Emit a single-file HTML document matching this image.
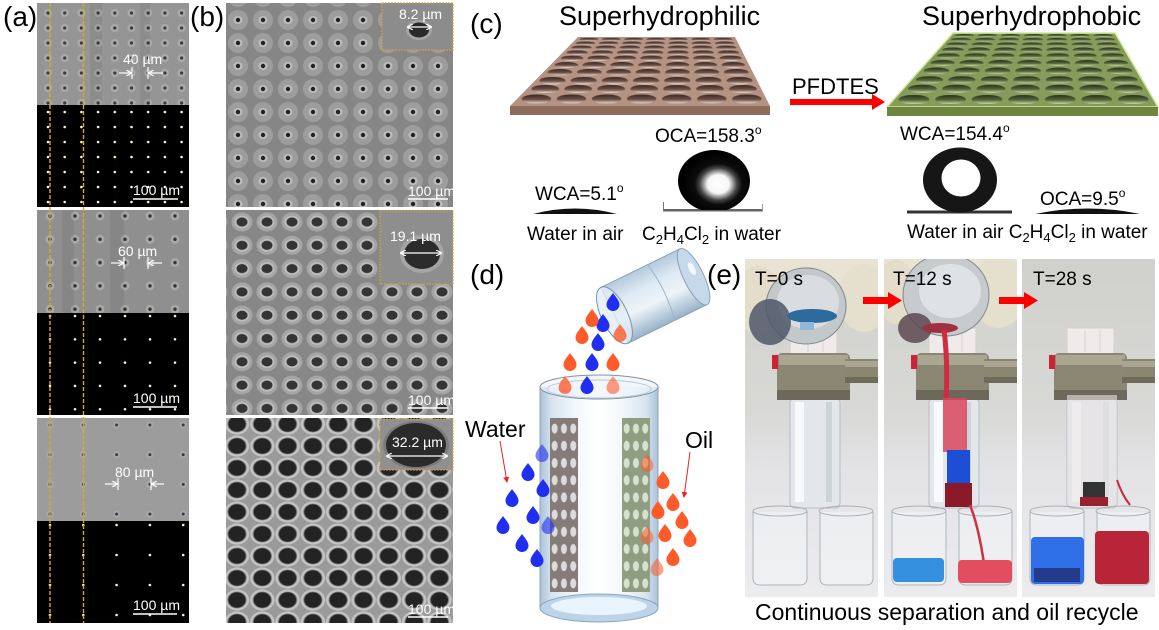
<!DOCTYPE html>
<html><head><meta charset="utf-8">
<style>
html,body{margin:0;padding:0;background:#fff;}
svg{display:block;}
text{font-family:"Liberation Sans",Arial,sans-serif;}
</style></head><body>
<svg width="1159" height="630" viewBox="0 0 1159 630" xmlns="http://www.w3.org/2000/svg">
<defs>
 <pattern id="a1g" patternUnits="userSpaceOnUse" x="39.65" y="5.5" width="16.7" height="15">
  <circle cx="8.35" cy="7.5" r="4" fill="#aaaaaa"/><circle cx="8.35" cy="7.5" r="1.6" fill="#3a3a3a"/>
 </pattern>
 <pattern id="a1k" patternUnits="userSpaceOnUse" x="39.65" y="104.5" width="16.7" height="15">
  <circle cx="8.35" cy="7.5" r="1.3" fill="#fff6d0"/>
 </pattern>
 <pattern id="a2g" patternUnits="userSpaceOnUse" x="37.5" y="204.35" width="25" height="23.3">
  <circle cx="12.5" cy="11.65" r="4.4" fill="#a9a9a9"/><circle cx="12.5" cy="11.65" r="1.7" fill="#333"/>
 </pattern>
 <pattern id="a2k" patternUnits="userSpaceOnUse" x="37.5" y="304.35" width="25" height="23.3">
  <circle cx="12.5" cy="11.65" r="1.3" fill="#fff6d0"/>
 </pattern>
 <pattern id="a3g" patternUnits="userSpaceOnUse" x="33.35" y="410" width="33.3" height="29.7">
  <circle cx="16.65" cy="15" r="3.6" fill="#a8a8a8"/><circle cx="16.65" cy="15" r="1.5" fill="#3a3a3a"/>
 </pattern>
 <pattern id="a3k" patternUnits="userSpaceOnUse" x="33.35" y="510" width="33.3" height="30">
  <circle cx="16.65" cy="15" r="1.3" fill="#fff6d0"/>
 </pattern>
 <pattern id="b1p" patternUnits="userSpaceOnUse" x="225.5" y="8.5" width="25" height="23">
  <ellipse cx="12.5" cy="11.5" rx="10" ry="10" fill="#9d9d9d"/>
  <ellipse cx="12.5" cy="11.5" rx="4.5" ry="4" fill="#bdbdbd"/>
  <circle cx="12.5" cy="11.5" r="2.2" fill="#222"/>
 </pattern>
 <pattern id="b2p" patternUnits="userSpaceOnUse" x="229.5" y="210.35" width="25" height="23.3">
  <ellipse cx="12.5" cy="11.65" rx="10.5" ry="9.5" fill="#a5a5a5"/>
  <ellipse cx="12.5" cy="11.65" rx="7.5" ry="6.5" fill="#bdbdbd"/>
  <ellipse cx="12.5" cy="11.65" rx="5.5" ry="4.6" fill="#343434"/>
 </pattern>
 <pattern id="b3p" patternUnits="userSpaceOnUse" x="224.35" y="413" width="25.3" height="22">
  <ellipse cx="12.65" cy="11" rx="12.2" ry="10.6" fill="#c4c4c4"/>
  <ellipse cx="12.65" cy="11" rx="9.6" ry="8.4" fill="#777"/>
  <ellipse cx="12.65" cy="11" rx="8.6" ry="7.6" fill="#232323"/>
 </pattern>
 <linearGradient id="gradB" x1="0" y1="0" x2="0" y2="1">
  <stop offset="0" stop-color="#3a271f"/><stop offset="0.55" stop-color="#6e5045"/><stop offset="1" stop-color="#efe4de"/>
 </linearGradient>
 <linearGradient id="gradG" x1="0" y1="0" x2="0" y2="1">
  <stop offset="0" stop-color="#25311a"/><stop offset="0.55" stop-color="#55673a"/><stop offset="1" stop-color="#cfdcac"/>
 </linearGradient>
 <pattern id="holeB" patternUnits="objectBoundingBox" patternContentUnits="objectBoundingBox" width="0.142857" height="1">
  <ellipse cx="0.0714" cy="0.5" rx="0.06" ry="0.5" fill="url(#gradB)"/>
 </pattern>
 <pattern id="holeG" patternUnits="objectBoundingBox" patternContentUnits="objectBoundingBox" width="0.142857" height="1">
  <ellipse cx="0.0714" cy="0.5" rx="0.06" ry="0.5" fill="url(#gradG)"/>
 </pattern>
 <radialGradient id="dropG" cx="0.56" cy="0.55" r="0.5">
  <stop offset="0" stop-color="#ffffff"/><stop offset="0.3" stop-color="#f6f6f6"/>
  <stop offset="0.52" stop-color="#444"/><stop offset="0.66" stop-color="#0c0c0c"/><stop offset="1" stop-color="#000"/>
 </radialGradient>
 <clipPath id="clipL"><rect x="660" y="140" width="110" height="70"/></clipPath>
 <linearGradient id="glassG" x1="0" y1="0" x2="1" y2="0">
  <stop offset="0" stop-color="#aac2d8"/><stop offset="0.1" stop-color="#d6e4f0"/>
  <stop offset="0.3" stop-color="#f3f7fb"/><stop offset="0.5" stop-color="#ffffff"/>
  <stop offset="0.7" stop-color="#f3f7fb"/><stop offset="0.9" stop-color="#d6e4f0"/><stop offset="1" stop-color="#aac2d8"/>
 </linearGradient>
 <linearGradient id="beakG" x1="0" y1="0" x2="0" y2="1">
  <stop offset="0" stop-color="#b4cadd"/><stop offset="0.3" stop-color="#dde9f3"/>
  <stop offset="0.6" stop-color="#eef4f9"/><stop offset="1" stop-color="#98b2c8"/>
 </linearGradient>
 <pattern id="meshL" patternUnits="userSpaceOnUse" x="550" y="420" width="9.3" height="17.2">
  <ellipse cx="4.65" cy="8.6" rx="3" ry="5" fill="#dcdcdc"/>
 </pattern>
 <pattern id="meshR" patternUnits="userSpaceOnUse" x="622" y="420" width="9.3" height="17.2">
  <ellipse cx="4.65" cy="8.6" rx="3" ry="5" fill="#d6e2d0"/>
 </pattern>
 <marker id="arR" markerWidth="6" markerHeight="6" refX="5" refY="3" orient="auto" markerUnits="userSpaceOnUse">
  <path d="M0,0 L6,3 L0,6 z" fill="#e02828"/>
 </marker>
 <marker id="arW" markerWidth="6" markerHeight="6" refX="5" refY="3" orient="auto" markerUnits="userSpaceOnUse">
  <path d="M0,0 L6,3 L0,6" fill="none" stroke="#fff" stroke-width="1.2"/>
 </marker>
 <marker id="arW2" markerWidth="6" markerHeight="6" refX="5" refY="3" orient="auto-start-reverse" markerUnits="userSpaceOnUse">
  <path d="M0,0 L6,3 L0,6" fill="none" stroke="#fff" stroke-width="1.2"/>
 </marker>
 <linearGradient id="photoBg" x1="0" y1="0" x2="0" y2="1">
  <stop offset="0" stop-color="#d0d0cc"/><stop offset="0.45" stop-color="#d8d8d6"/>
  <stop offset="0.62" stop-color="#e3e3e6"/><stop offset="1" stop-color="#ececef"/>
 </linearGradient>
 <g id="pbase">
  <rect x="745" y="259" width="133" height="338" fill="url(#photoBg)"/>
  <rect x="790" y="398" width="50" height="110" rx="5" fill="#e3e7ea" stroke="#b5bdc2"/>
  <rect x="795" y="402" width="9" height="100" fill="#f7f9fa"/>
  <rect x="826" y="402" width="6" height="100" fill="#cdd4d8"/>
  <rect x="790" y="328" width="47" height="27" fill="#efebea" stroke="#d6cfcf"/>
  <line x1="808" y1="330" x2="808" y2="352" stroke="#d8d0d0"/>
  <line x1="823" y1="330" x2="823" y2="352" stroke="#d8d0d0"/>
  <rect x="777" y="353" width="73" height="47" rx="5" fill="#8b8773"/>
  <rect x="779" y="355" width="69" height="10" fill="#aba692"/>
  <rect x="777" y="390" width="73" height="10" fill="#6d695a"/>
  <rect x="845" y="359" width="33" height="24" fill="#8a8672"/>
  <rect x="845" y="361" width="33" height="6" fill="#a9a590"/>
  <rect x="845" y="377" width="33" height="6" fill="#6f6b5b"/>
  <rect x="772" y="355" width="6" height="14" fill="#cc2233"/>
  <path d="M753,512 L753,578 Q753,585 760,585 L800,585 Q807,585 807,578 L807,512" fill="#f2f4f5" fill-opacity="0.6" stroke="#aeb6bc"/>
  <ellipse cx="780" cy="511" rx="27" ry="5" fill="none" stroke="#a9b1b7"/>
  <path d="M820,512 L820,578 Q820,585 827,585 L866,585 Q873,585 873,578 L873,512" fill="#f2f4f5" fill-opacity="0.6" stroke="#aeb6bc"/>
  <ellipse cx="846" cy="511" rx="27" ry="5" fill="none" stroke="#a9b1b7"/>
 </g>
 <clipPath id="cp1"><rect x="745" y="259" width="133" height="338"/></clipPath>
 <clipPath id="cp2"><rect x="884" y="259" width="133" height="338"/></clipPath>
 <clipPath id="cp3"><rect x="1022" y="259" width="135" height="338"/></clipPath>
</defs>

<rect width="1159" height="630" fill="#fff"/>

<!-- ===== Panel (a) ===== -->
<text x="3" y="26" font-size="28">(a)</text>
<rect x="37" y="3" width="152" height="102" fill="#959595"/>
<rect x="37" y="3" width="152" height="102" fill="url(#a1g)"/>
<rect x="37" y="105" width="152" height="102" fill="#000"/>
<rect x="37" y="105" width="152" height="102" fill="url(#a1k)"/>
<rect x="37" y="210" width="152" height="103" fill="#8f8f8f"/>
<rect x="37" y="210" width="152" height="103" fill="url(#a2g)"/>
<rect x="37" y="313" width="152" height="102" fill="#000"/>
<rect x="37" y="313" width="152" height="102" fill="url(#a2k)"/>
<rect x="37" y="418" width="152" height="103" fill="#9c9c9c"/>
<rect x="37" y="418" width="152" height="103" fill="url(#a3g)"/>
<rect x="37" y="521" width="152" height="102" fill="#000"/>
<rect x="37" y="521" width="152" height="102" fill="url(#a3k)"/>
<g fill="#000" fill-opacity="0.06">
 <rect x="90" y="3" width="12" height="102"/><rect x="140" y="3" width="10" height="102"/>
 <rect x="62" y="210" width="12" height="103"/><rect x="110" y="210" width="14" height="103"/>
</g>
<line x1="50" y1="3" x2="50" y2="623" stroke="#dfa91c" stroke-width="1.4" stroke-dasharray="4 2"/>
<line x1="83.5" y1="3" x2="83.5" y2="623" stroke="#dfa91c" stroke-width="1.4" stroke-dasharray="4 2"/>
<g fill="#fff" font-size="14">
 <text x="123" y="64">40 µm</text>
 <text x="118" y="256">60 µm</text>
 <text x="115" y="477">80 µm</text>
 <text x="133" y="195">100 µm</text>
 <text x="133" y="403">100 µm</text>
 <text x="133" y="610">100 µm</text>
</g>
<g stroke="#fff" stroke-width="1.2" fill="none">
 <line x1="119" y1="73" x2="131" y2="73" marker-end="url(#arW)"/>
 <line x1="132" y1="67" x2="132" y2="79"/><line x1="148" y1="67" x2="148" y2="79"/>
 <line x1="163" y1="73" x2="149" y2="73" marker-end="url(#arW)"/>
 <line x1="111" y1="263" x2="123" y2="263" marker-end="url(#arW)"/>
 <line x1="124" y1="257" x2="124" y2="269"/><line x1="148" y1="257" x2="148" y2="269"/>
 <line x1="162" y1="263" x2="149" y2="263" marker-end="url(#arW)"/>
 <line x1="105" y1="484" x2="117" y2="484" marker-end="url(#arW)"/>
 <line x1="118" y1="478" x2="118" y2="490"/><line x1="151" y1="478" x2="151" y2="490"/>
 <line x1="164" y1="484" x2="152" y2="484" marker-end="url(#arW)"/>
 <line x1="133" y1="199" x2="178" y2="199" stroke-width="1.5"/>
 <line x1="133" y1="407" x2="177" y2="407" stroke-width="1.5"/>
 <line x1="133" y1="614" x2="177" y2="614" stroke-width="1.5"/>
</g>

<!-- ===== Panel (b) ===== -->
<text x="190" y="26" font-size="28">(b)</text>
<rect x="226" y="3" width="227" height="204" fill="#868686"/>
<rect x="226" y="3" width="227" height="204" fill="url(#b1p)"/>
<rect x="226" y="210" width="227" height="205" fill="#878787"/>
<rect x="226" y="210" width="227" height="205" fill="url(#b2p)"/>
<rect x="226" y="418" width="227" height="205" fill="#9a9a9a"/>
<rect x="226" y="418" width="227" height="205" fill="url(#b3p)"/>
<rect x="382" y="3" width="71" height="47" fill="#8c8c8c" stroke="#d2a437" stroke-dasharray="2 1"/>
<ellipse cx="419" cy="30" rx="13" ry="10" fill="#a4a4a4"/>
<ellipse cx="419" cy="30" rx="10" ry="7.5" fill="#2a2a2a"/>
<rect x="380" y="211" width="73" height="73" fill="#8e8e8e" stroke="#d2a437" stroke-dasharray="2 1"/>
<ellipse cx="422" cy="254" rx="22" ry="19" fill="#a5a5a5"/>
<ellipse cx="422" cy="254" rx="18" ry="15" fill="#2c2c2c"/>
<rect x="380" y="419" width="73" height="51" fill="#909090" stroke="#d2a437" stroke-dasharray="2 1"/>
<ellipse cx="416" cy="445" rx="33" ry="24" fill="#7c7c7c"/>
<ellipse cx="416" cy="445" rx="30" ry="22" fill="#2b2b2b"/>
<g fill="#fff" font-size="14">
 <text x="399" y="19">8.2 µm</text>
 <text x="390" y="241">19.1 µm</text>
 <text x="392" y="447">32.2 µm</text>
 <text x="408" y="196">100 µm</text>
 <text x="408" y="405">100 µm</text>
 <text x="408" y="614">100 µm</text>
</g>
<g stroke="#fff" stroke-width="1.2">
 <line x1="408" y1="27" x2="431" y2="27" marker-start="url(#arW2)" marker-end="url(#arW2)"/>
 <line x1="401" y1="253" x2="441" y2="253" marker-start="url(#arW2)" marker-end="url(#arW2)"/>
 <line x1="387" y1="456" x2="447" y2="456" marker-start="url(#arW2)" marker-end="url(#arW2)"/>
 <line x1="408" y1="199" x2="448" y2="199" stroke-width="1.5"/>
 <line x1="408" y1="408" x2="448" y2="408" stroke-width="1.5"/>
 <line x1="408" y1="617" x2="448" y2="617" stroke-width="1.5"/>
</g>

<!-- ===== Panel (c) ===== -->
<text x="470" y="33" font-size="28">(c)</text>
<text x="559" y="25" font-size="27">Superhydrophilic</text>
<text x="922" y="25" font-size="27">Superhydrophobic</text>
<polygon points="578,37 735,37 770,106 510,106" fill="#b59383"/>
<rect x="510" y="106" width="260" height="9" fill="#8f6b5b"/>
<g fill="url(#holeB)">
 <rect x="577.7" y="37.7" width="156.5" height="3.2"/>
 <rect x="573.8" y="41.4" width="162.4" height="3.8"/>
 <rect x="569.5" y="45.6" width="168.9" height="4.2"/>
 <rect x="564.5" y="50.3" width="176.5" height="4.8"/>
 <rect x="559" y="55.6" width="184.8" height="5.4"/>
 <rect x="552.4" y="62" width="194.8" height="6"/>
 <rect x="545.2" y="68.9" width="205.7" height="6.8"/>
 <rect x="536.9" y="76.9" width="218.3" height="7.6"/>
 <rect x="528.8" y="84.8" width="230.6" height="8.4"/>
 <rect x="518.9" y="94.3" width="245.5" height="9.4"/>
</g>
<polygon points="953,33 1115,33 1158,107 887,107" fill="#879c5a" stroke="#cfe89a" stroke-width="1.5"/>
<rect x="887" y="107" width="271" height="9" fill="#6d853f"/>
<g fill="url(#holeG)">
 <rect x="952.8" y="33.9" width="161.7" height="3.2"/>
 <rect x="949" y="37.8" width="167.9" height="3.8"/>
 <rect x="944.7" y="42.4" width="175" height="4.2"/>
 <rect x="939.9" y="47.5" width="182.9" height="4.8"/>
 <rect x="934.6" y="53.2" width="191.7" height="5.4"/>
 <rect x="928.2" y="60" width="202.2" height="6"/>
 <rect x="921.2" y="67.5" width="213.8" height="6.8"/>
 <rect x="913.2" y="76.1" width="227.1" height="7.6"/>
 <rect x="905.2" y="84.6" width="240.2" height="8.4"/>
 <rect x="895.7" y="94.8" width="255.9" height="9.4"/>
</g>
<text x="792" y="94" font-size="22">PFDTES</text>
<rect x="790" y="99" width="84" height="6" fill="#ff0000"/>
<polygon points="872,94 885,102 872,110" fill="#ff0000"/>
<path d="M533,214 Q575,203 617,214 Z" fill="#111"/>
<rect x="663" y="209" width="100" height="2.5" fill="#666"/>
<line x1="663.5" y1="202" x2="663.5" y2="211" stroke="#777"/>
<line x1="762.5" y1="204" x2="762.5" y2="211" stroke="#999"/>
<ellipse cx="714" cy="181" rx="36" ry="31" fill="url(#dropG)" clip-path="url(#clipL)"/>
<rect x="907" y="210.5" width="105" height="3" fill="#333"/>
<ellipse cx="960" cy="180" rx="37" ry="32.5" fill="#161616"/>
<ellipse cx="961" cy="178" rx="19.5" ry="18.5" fill="#fff"/>
<path d="M1035,214 Q1088,203 1140,214 Z" fill="#111"/>
<g font-size="19">
 <text x="655" y="142">OCA=158.3<tspan dy="-8" font-size="12">o</tspan></text>
 <text x="535" y="200">WCA=5.1<tspan dy="-8" font-size="12">o</tspan></text>
 <text x="527" y="240">Water in air</text>
 <text x="642" y="240">C<tspan dy="4" font-size="13">2</tspan><tspan dy="-4">H</tspan><tspan dy="4" font-size="13">4</tspan><tspan dy="-4">Cl</tspan><tspan dy="4" font-size="13">2</tspan><tspan dy="-4"> in water</tspan></text>
 <text x="900" y="140">WCA=154.4<tspan dy="-8" font-size="12">o</tspan></text>
 <text x="1040" y="205">OCA=9.5<tspan dy="-8" font-size="12">o</tspan></text>
 <text x="907" y="238">Water in air C<tspan dy="4" font-size="13">2</tspan><tspan dy="-4">H</tspan><tspan dy="4" font-size="13">4</tspan><tspan dy="-4">Cl</tspan><tspan dy="4" font-size="13">2</tspan><tspan dy="-4"> in water</tspan></text>
</g>

<!-- ===== Panel (d) ===== -->
<text x="470" y="284" font-size="28">(d)</text>
<g transform="translate(654,296) rotate(-26)">
 <rect x="-44" y="-31" width="88" height="62" fill="url(#beakG)" stroke="#8aa2b8"/>
 <ellipse cx="44" cy="0" rx="10" ry="31" fill="#c6d9ea" stroke="#8aa2b8"/>
 <ellipse cx="46" cy="-8" rx="3" ry="7" fill="#f4f8fb"/>
 <path d="M8,-31 Q14,0 8,31" fill="none" stroke="#9ab2c6"/>
 <ellipse cx="-44" cy="0" rx="13" ry="31" fill="#e2edf6" fill-opacity="0.8" stroke="#7890a8"/>
</g>
<rect x="540" y="387" width="118" height="221" fill="url(#glassG)"/>
<ellipse cx="599" cy="608" rx="59" ry="14" fill="#bcd3e8" stroke="#8aa6c0"/>
<ellipse cx="599" cy="606" rx="48" ry="9" fill="#e8f4ff"/>
<rect x="550" y="418" width="28" height="174" fill="#857b78"/>
<rect x="550" y="418" width="28" height="174" fill="url(#meshL)"/>
<rect x="622" y="418" width="28" height="174" fill="#8f9e80"/>
<rect x="622" y="418" width="28" height="174" fill="url(#meshR)"/>
<line x1="540" y1="387" x2="540" y2="608" stroke="#8ea4ba"/>
<line x1="658" y1="387" x2="658" y2="608" stroke="#8ea4ba"/>
<ellipse cx="599" cy="387" rx="59" ry="12" fill="#eef4fa" fill-opacity="0.7" stroke="#7f94a8"/>
<ellipse cx="599" cy="389" rx="52" ry="9" fill="none" stroke="#b9cadb"/>
<g>
 <g fill="#1f2ef0">
  <path transform="translate(613,302)" d="M0,-9 C2,-6 6.5,-1.5 6.5,2.5 A6.5,6.5 0 0 1 -6.5,2.5 C-6.5,-1.5 -2,-6 0,-9Z"/>
  <path transform="translate(603,323)" d="M0,-9 C2,-6 6.5,-1.5 6.5,2.5 A6.5,6.5 0 0 1 -6.5,2.5 C-6.5,-1.5 -2,-6 0,-9Z"/>
  <path transform="translate(598,342)" d="M0,-9 C2,-6 6.5,-1.5 6.5,2.5 A6.5,6.5 0 0 1 -6.5,2.5 C-6.5,-1.5 -2,-6 0,-9Z"/>
  <path transform="translate(592,362)" d="M0,-9 C2,-6 6.5,-1.5 6.5,2.5 A6.5,6.5 0 0 1 -6.5,2.5 C-6.5,-1.5 -2,-6 0,-9Z"/>
  <path transform="translate(587,385)" d="M0,-9 C2,-6 6.5,-1.5 6.5,2.5 A6.5,6.5 0 0 1 -6.5,2.5 C-6.5,-1.5 -2,-6 0,-9Z"/>
  <path transform="translate(528,472)" d="M0,-9 C2,-6 6.5,-1.5 6.5,2.5 A6.5,6.5 0 0 1 -6.5,2.5 C-6.5,-1.5 -2,-6 0,-9Z"/>
  <path transform="translate(543,488)" d="M0,-9 C2,-6 6.5,-1.5 6.5,2.5 A6.5,6.5 0 0 1 -6.5,2.5 C-6.5,-1.5 -2,-6 0,-9Z"/>
  <path transform="translate(512,498)" d="M0,-9 C2,-6 6.5,-1.5 6.5,2.5 A6.5,6.5 0 0 1 -6.5,2.5 C-6.5,-1.5 -2,-6 0,-9Z"/>
  <path transform="translate(533,515)" d="M0,-9 C2,-6 6.5,-1.5 6.5,2.5 A6.5,6.5 0 0 1 -6.5,2.5 C-6.5,-1.5 -2,-6 0,-9Z"/>
  <path transform="translate(503,525)" d="M0,-9 C2,-6 6.5,-1.5 6.5,2.5 A6.5,6.5 0 0 1 -6.5,2.5 C-6.5,-1.5 -2,-6 0,-9Z"/>
  <path transform="translate(522,543)" d="M0,-9 C2,-6 6.5,-1.5 6.5,2.5 A6.5,6.5 0 0 1 -6.5,2.5 C-6.5,-1.5 -2,-6 0,-9Z"/>
  <path transform="translate(537,558)" d="M0,-9 C2,-6 6.5,-1.5 6.5,2.5 A6.5,6.5 0 0 1 -6.5,2.5 C-6.5,-1.5 -2,-6 0,-9Z"/>
  <path transform="translate(542,453)" opacity="0.6" d="M0,-9 C2,-6 6.5,-1.5 6.5,2.5 A6.5,6.5 0 0 1 -6.5,2.5 C-6.5,-1.5 -2,-6 0,-9Z"/>
  <path transform="translate(548,525)" opacity="0.6" d="M0,-9 C2,-6 6.5,-1.5 6.5,2.5 A6.5,6.5 0 0 1 -6.5,2.5 C-6.5,-1.5 -2,-6 0,-9Z"/>
 </g>
 <g fill="#ff5a2a">
  <path transform="translate(592,318)" d="M0,-9 C2,-6 6.5,-1.5 6.5,2.5 A6.5,6.5 0 0 1 -6.5,2.5 C-6.5,-1.5 -2,-6 0,-9Z"/>
  <path transform="translate(620,333)" opacity="0.8" d="M0,-9 C2,-6 6.5,-1.5 6.5,2.5 A6.5,6.5 0 0 1 -6.5,2.5 C-6.5,-1.5 -2,-6 0,-9Z"/>
  <path transform="translate(582,335)" d="M0,-9 C2,-6 6.5,-1.5 6.5,2.5 A6.5,6.5 0 0 1 -6.5,2.5 C-6.5,-1.5 -2,-6 0,-9Z"/>
  <path transform="translate(570,362)" d="M0,-9 C2,-6 6.5,-1.5 6.5,2.5 A6.5,6.5 0 0 1 -6.5,2.5 C-6.5,-1.5 -2,-6 0,-9Z"/>
  <path transform="translate(613,362)" d="M0,-9 C2,-6 6.5,-1.5 6.5,2.5 A6.5,6.5 0 0 1 -6.5,2.5 C-6.5,-1.5 -2,-6 0,-9Z"/>
  <path transform="translate(565,385)" opacity="0.8" d="M0,-9 C2,-6 6.5,-1.5 6.5,2.5 A6.5,6.5 0 0 1 -6.5,2.5 C-6.5,-1.5 -2,-6 0,-9Z"/>
  <path transform="translate(613,385)" opacity="0.6" d="M0,-9 C2,-6 6.5,-1.5 6.5,2.5 A6.5,6.5 0 0 1 -6.5,2.5 C-6.5,-1.5 -2,-6 0,-9Z"/>
  <path transform="translate(663,480)" d="M0,-9 C2,-6 6.5,-1.5 6.5,2.5 A6.5,6.5 0 0 1 -6.5,2.5 C-6.5,-1.5 -2,-6 0,-9Z"/>
  <path transform="translate(673,502)" d="M0,-9 C2,-6 6.5,-1.5 6.5,2.5 A6.5,6.5 0 0 1 -6.5,2.5 C-6.5,-1.5 -2,-6 0,-9Z"/>
  <path transform="translate(658,510)" d="M0,-9 C2,-6 6.5,-1.5 6.5,2.5 A6.5,6.5 0 0 1 -6.5,2.5 C-6.5,-1.5 -2,-6 0,-9Z"/>
  <path transform="translate(682,520)" d="M0,-9 C2,-6 6.5,-1.5 6.5,2.5 A6.5,6.5 0 0 1 -6.5,2.5 C-6.5,-1.5 -2,-6 0,-9Z"/>
  <path transform="translate(665,533)" d="M0,-9 C2,-6 6.5,-1.5 6.5,2.5 A6.5,6.5 0 0 1 -6.5,2.5 C-6.5,-1.5 -2,-6 0,-9Z"/>
  <path transform="translate(690,538)" d="M0,-9 C2,-6 6.5,-1.5 6.5,2.5 A6.5,6.5 0 0 1 -6.5,2.5 C-6.5,-1.5 -2,-6 0,-9Z"/>
  <path transform="translate(673,557)" d="M0,-9 C2,-6 6.5,-1.5 6.5,2.5 A6.5,6.5 0 0 1 -6.5,2.5 C-6.5,-1.5 -2,-6 0,-9Z"/>
  <path transform="translate(647,463)" opacity="0.55" d="M0,-9 C2,-6 6.5,-1.5 6.5,2.5 A6.5,6.5 0 0 1 -6.5,2.5 C-6.5,-1.5 -2,-6 0,-9Z"/>
  <path transform="translate(647,535)" opacity="0.55" d="M0,-9 C2,-6 6.5,-1.5 6.5,2.5 A6.5,6.5 0 0 1 -6.5,2.5 C-6.5,-1.5 -2,-6 0,-9Z"/>
  <path transform="translate(657,567)" opacity="0.55" d="M0,-9 C2,-6 6.5,-1.5 6.5,2.5 A6.5,6.5 0 0 1 -6.5,2.5 C-6.5,-1.5 -2,-6 0,-9Z"/>
 </g>
</g>
<text x="465" y="437" font-size="23">Water</text>
<text x="685" y="448" font-size="23">Oil</text>
<line x1="500" y1="441" x2="507" y2="482" stroke="#e02828" stroke-width="1" marker-end="url(#arR)"/>
<line x1="690" y1="452" x2="684" y2="497" stroke="#e02828" stroke-width="1" marker-end="url(#arR)"/>

<!-- ===== Panel (e) ===== -->
<text x="707" y="284" font-size="28">(e)</text>
<g clip-path="url(#cp1)">
 <use href="#pbase"/>
 <rect x="745" y="259" width="133" height="50" fill="#e8e3d2"/>
 <ellipse cx="758" cy="300" rx="24" ry="34" fill="#e3ddca"/>
 <ellipse cx="864" cy="298" rx="26" ry="34" fill="#e5e0cd"/>
 <ellipse cx="806" cy="306" rx="40" ry="38" fill="#c3c8cb" stroke="#7e858b"/>
 <ellipse cx="808" cy="302" rx="31" ry="27" fill="#d9dddf"/>
 <ellipse cx="770" cy="322" rx="21" ry="23" fill="#4f5768" fill-opacity="0.85"/>
 <ellipse cx="812" cy="316" rx="25" ry="7" fill="#2d6b9c"/>
 <rect x="800" y="322" width="14" height="8" fill="#8fb8d8"/>
</g>
<g clip-path="url(#cp2)">
 <use href="#pbase" x="139"/>
 <rect x="884" y="259" width="133" height="42" fill="#e8e3d2"/>
 <ellipse cx="896" cy="292" rx="20" ry="32" fill="#e3ddca"/>
 <ellipse cx="998" cy="292" rx="28" ry="36" fill="#e5e0cd"/>
 <ellipse cx="946" cy="295" rx="43" ry="41" fill="#c7cbce" stroke="#80878d"/>
 <ellipse cx="950" cy="291" rx="31" ry="27" fill="#dfe2e4"/>
 <ellipse cx="915" cy="328" rx="17" ry="15" fill="#5c4850" fill-opacity="0.85"/>
 <ellipse cx="940" cy="328" rx="18" ry="5" fill="#a03040"/>
 <path d="M944,330 Q948,360 946,400" fill="none" stroke="#d02c40" stroke-width="5"/>
 <rect x="943" y="398" width="24" height="54" fill="#d9475c" fill-opacity="0.85"/>
 <rect x="947" y="450" width="23" height="33" fill="#1d4fd6"/>
 <rect x="945" y="483" width="27" height="24" fill="#8a1a2a"/>
 <path d="M970,505 Q980,530 986,578" fill="none" stroke="#d0303f" stroke-width="2.5"/>
 <rect x="893" y="558" width="51" height="24" rx="4" fill="#3590e0"/>
 <rect x="958" y="560" width="54" height="23" rx="4" fill="#e24e60"/>
</g>
<g clip-path="url(#cp3)">
 <use href="#pbase" x="277"/>
 <rect x="1067" y="395" width="50" height="110" fill="#e9e3e5" fill-opacity="0.6"/>
 <rect x="1083" y="482" width="22" height="15" fill="#333"/>
 <rect x="1080" y="497" width="28" height="9" fill="#9a2030"/>
 <path d="M1117,480 Q1122,495 1130,505" fill="none" stroke="#c82a3a" stroke-width="2"/>
 <rect x="1031" y="537" width="53" height="47" rx="4" fill="#2e6ee6"/>
 <rect x="1034" y="568" width="46" height="14" fill="#243a8a"/>
 <rect x="1095" y="531" width="54" height="53" rx="4" fill="#b82438"/>
</g>
<rect x="863" y="297" width="27" height="7" fill="#ff0000"/>
<polygon points="888,292 902,300.5 888,309" fill="#ff0000"/>
<rect x="999" y="297" width="27" height="7" fill="#ff0000"/>
<polygon points="1024,292 1038,300.5 1024,309" fill="#ff0000"/>
<g font-size="19">
 <text x="755" y="285">T=0 s</text>
 <text x="893" y="285">T=12 s</text>
 <text x="1033" y="285">T=28 s</text>
</g>
<text x="755" y="620" font-size="23">Continuous separation and oil recycle</text>
</svg>
</body></html>
